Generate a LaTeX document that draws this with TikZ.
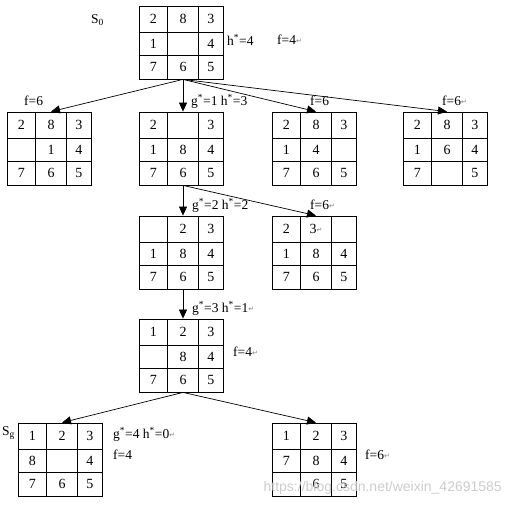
\documentclass[tikz,border=0pt]{standalone}
\usepackage{fontspec}
\setmainfont{Liberation Serif}
\newfontfamily\retfont{DejaVu Sans}
\newfontfamily\wmfont{Liberation Sans}
\usepackage{tikz}
\usetikzlibrary{arrows.meta}
% 回车符号
\newcommand{\ret}{{\retfont\fontsize{7}{7}\selectfont\color{gray}\raisebox{1pt}{↵}}}
\tikzset{
  cell/.style={
    draw,
    line width=0.8pt,
    inner sep=0pt,
    font=\fontsize{14}{14}\selectfont
  },
  move/.style={
    -{Triangle[length=9pt,width=8pt]},
    line width=0.7pt
  },
  info/.style={
    anchor=west,
    inner sep=0pt,
    font=\fontsize{13.5}{14}\selectfont
  },
  watermark/.style={
    anchor=east,
    inner sep=0pt,
    color=gray!40,
    font=\wmfont\fontsize{14}{14}\selectfont
  }
}
% 八数码棋盘：名字, 左上角x, 左上角y, 九个数
\newcommand{\puzzle}[4]{%
  \foreach [count=\i from 0] \v in {#4} {
    \pgfmathtruncatemacro\r{div(\i,3)+1}
    \pgfmathtruncatemacro\c{mod(\i,3)+1}
    \pgfmathsetmacro\cx{{14.25,44,71.75}[\c-1]}
    \pgfmathsetmacro\cw{{28.5,31,24.5}[\c-1]}
    \pgfmathsetmacro\cy{{13,37.5,61}[\r-1]}
    \pgfmathsetmacro\ch{{26,23,24}[\r-1]}
    \node[cell, minimum width=\cw pt, minimum height=\ch pt] (#1-\r\c) at (#2+\cx, #3+\cy) {\v};
  }
}

\begin{document}
\begin{tikzpicture}[x=1pt, y=-1pt]
  \useasboundingbox (0,0) rectangle (512,508);

  % 棋盘
  \puzzle{s0}{139}{6}{2,8,3,1,{},4,7,6,5}
  \puzzle{a}{7}{112}{2,8,3,{},1,4,7,6,5}
  \puzzle{b}{139}{112}{2,{},3,1,8,4,7,6,5}
  \puzzle{c}{272}{112}{2,8,3,1,4,{},7,6,5}
  \puzzle{d}{403}{112}{2,8,3,1,6,4,7,{},5}
  \puzzle{e}{139}{216}{{},2,3,1,8,4,7,6,5}
  \puzzle{f}{272}{216}{2,3\ret,{},1,8,4,7,6,5}
  \puzzle{g}{139}{319}{1,2,3,{},8,4,7,6,5}
  \puzzle{h}{18}{423}{1,2,3,8,{},4,7,6,5}
  \puzzle{i}{272}{423}{1,2,3,7,8,4,{},6,5}

  % 扩展
  \draw[move] (s0-32.south) -- (a-12.north);
  \draw[move] (s0-32.south) -- (b-12.north);
  \draw[move] (s0-32.south) -- (c-12.north);
  \draw[move] (s0-32.south) -- (d-12.north);
  \draw[move] (b-32.south) -- (e-12.north);
  \draw[move] (b-32.south) -- (f-12.north);
  \draw[move] (e-32.south) -- (g-12.north);
  \draw[move] (g-32.south) -- (h-12.north);
  \draw[move] (g-32.south) -- (i-12.north);

  % 估价
  \node[info] (s0name) at (91,20) {S\textsubscript{0}};
  \node[info] (s0h) at (227,40) {h\textsuperscript{*}=4};
  \node[info] (s0f) at (277,40) {f=4\ret};
  \node[info] (af) at (24,101) {f=6};
  \node[info] (bgh) at (191,101) {g\textsuperscript{*}=1 h\textsuperscript{*}=3};
  \node[info] (cf) at (310,101) {f=6};
  \node[info] (df) at (442,101) {f=6\ret};
  \node[info] (egh) at (192,205) {g\textsuperscript{*}=2 h\textsuperscript{*}=2};
  \node[info] (ff) at (310,205) {f=6\ret};
  \node[info] (ggh) at (192,308) {g\textsuperscript{*}=3 h\textsuperscript{*}=1\ret};
  \node[info] (gf) at (233,352) {f=4\ret};
  \node[info] (hname) at (2,433) {S\textsubscript{g}};
  \node[info] (hgh) at (113,434) {g\textsuperscript{*}=4 h\textsuperscript{*}=0\ret};
  \node[info] (hf) at (113,455) {f=4};
  \node[info] (if) at (365,455) {f=6\ret};

  \node[watermark] (wm) at (502,488) {https://blog.csdn.net/weixin\_42691585};
\end{tikzpicture}
\end{document}
